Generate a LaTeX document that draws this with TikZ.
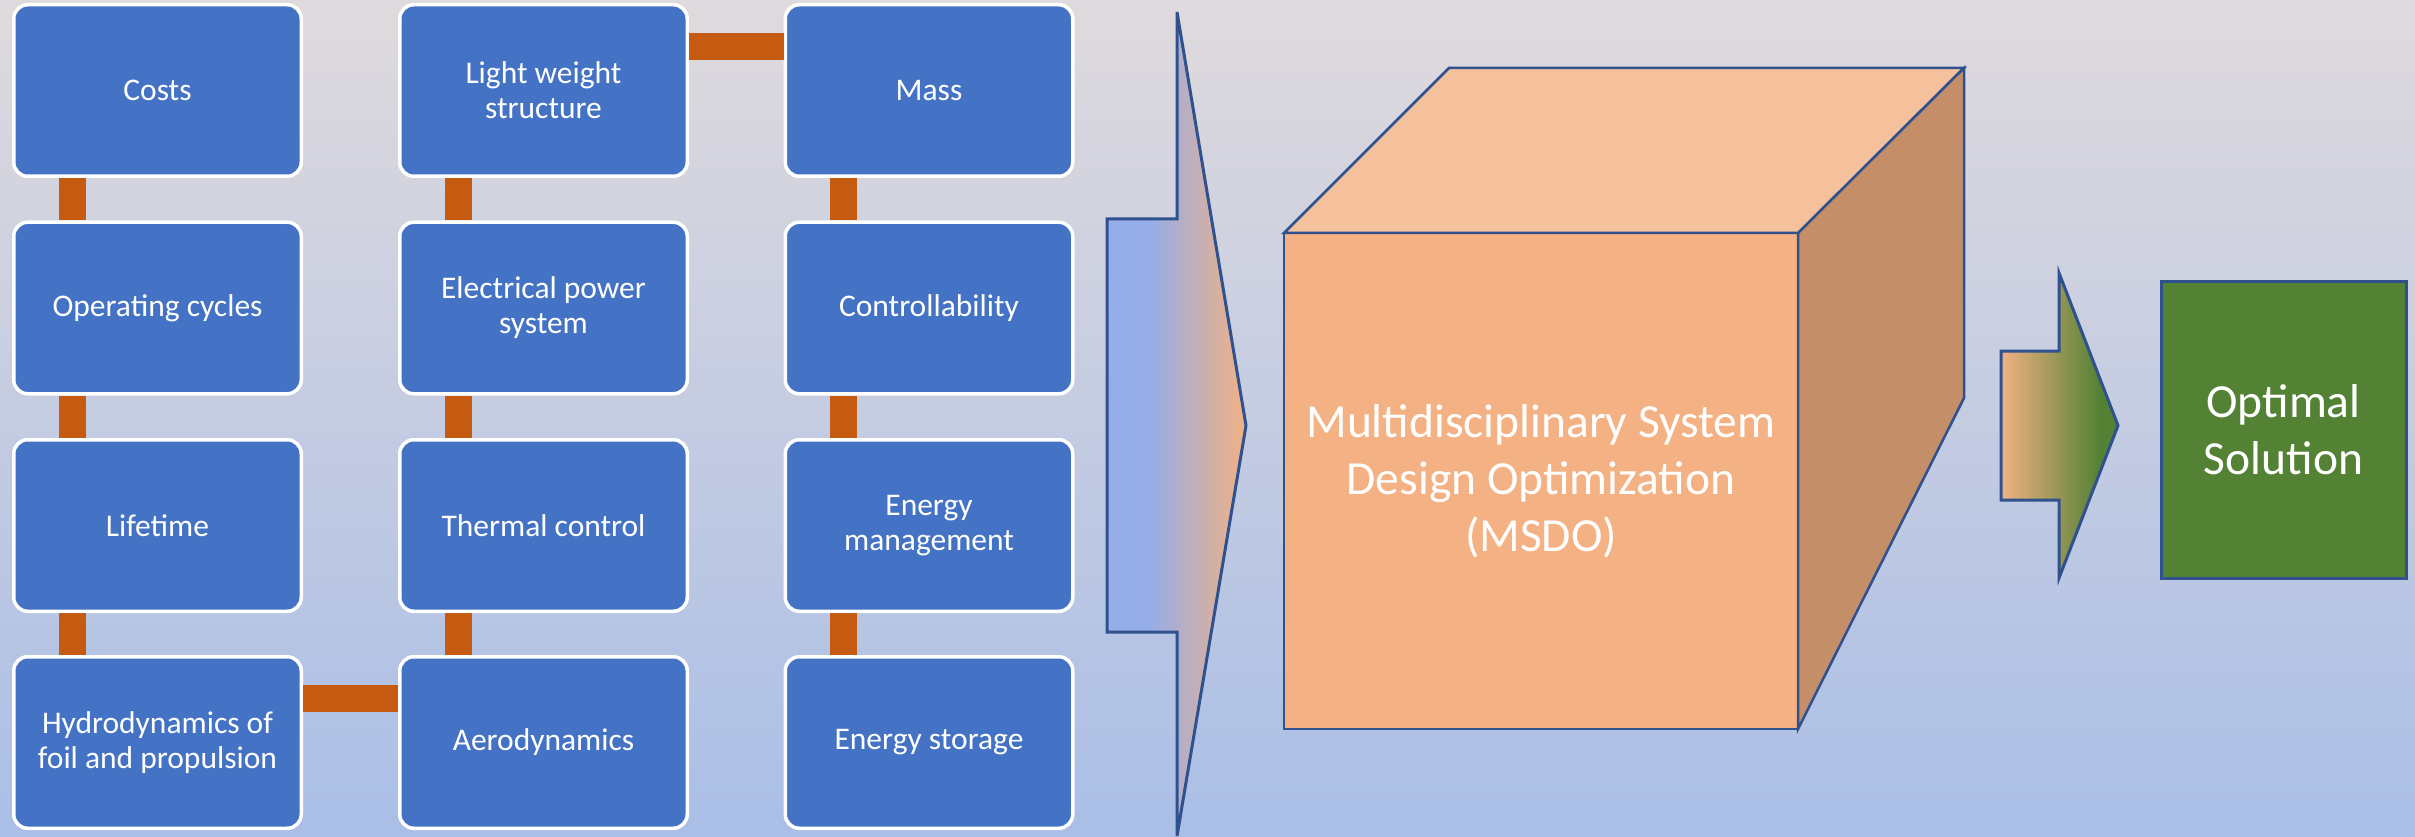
\documentclass[tikz,border=0pt]{standalone}
\usepackage{fontspec}
\setmainfont{Carlito}

\definecolor{bgtop}{HTML}{DFDADD}
\definecolor{bgbot}{HTML}{AABEE6}
\definecolor{boxblue}{HTML}{4472C4}
\definecolor{linkorange}{HTML}{C55A11}
\definecolor{edgeblue}{HTML}{2F528F}
\definecolor{cubefrontc}{HTML}{F4B183}
\definecolor{cubetopc}{HTML}{F5C19C}
\definecolor{cubesidec}{HTML}{C48E69}
\definecolor{solgreen}{HTML}{548235}
\definecolor{arrowblue}{HTML}{95ADE8}
\definecolor{arroworange}{HTML}{F2B183}

% left-to-right fills of the two block arrows (visible part is 25bp..75bp)
\pgfdeclarehorizontalshading{inflow}{100bp}{color(0bp)=(arrowblue); color(40bp)=(arrowblue); color(75bp)=(arroworange); color(100bp)=(arroworange)}
\pgfdeclarehorizontalshading{outflow}{100bp}{color(0bp)=(arroworange); color(25bp)=(arroworange); color(67bp)=(solgreen); color(100bp)=(solgreen)}

\tikzset{
  topic/.style={rectangle, rounded corners=14pt, draw=white, line width=3.5pt,
    fill=boxblue, text=white, minimum width=287.5pt, minimum height=171.5pt,
    align=center, font=\fontsize{31.5pt}{35pt}\selectfont},
  link/.style={draw=linkorange, line width=27pt},
  blockarrow/.style={draw=edgeblue, line width=3pt, line join=miter},
  cubeedge/.style={draw=edgeblue, line width=2.5pt, line join=miter},
  bigtext/.style={text=white, align=center, font=\fontsize{47.5pt}{57pt}\selectfont},
}

\begin{document}
\begin{tikzpicture}[x=1pt, y=-1pt]
  % backdrop
  \shade[top color=bgtop, bottom color=bgbot] (0,0) rectangle (2415,837);
  \useasboundingbox (0,0) rectangle (2415,837);

  % discipline boxes
  \node[topic] (costs)  at (157.5,90.5)  {Costs};
  \node[topic] (cycles) at (157.5,308)   {Operating cycles};
  \node[topic] (life)   at (157.5,525.5) {Lifetime};
  \node[topic] (hydro)  at (157.5,742.5) {Hydrodynamics of\\foil and propulsion};

  \node[topic] (light)  at (543.5,90.5)  {Light weight\\structure};
  \node[topic] (power)  at (543.5,308)   {Electrical power\\system};
  \node[topic] (therm)  at (543.5,525.5) {Thermal control};
  \node[topic] (aero)   at (543.5,742.5) {Aerodynamics};

  \node[topic] (mass)   at (929,90.5)    {Mass};
  \node[topic] (ctrl)   at (929,308)     {Controllability};
  \node[topic] (emgmt)  at (929,525.5)   {Energy\\management};
  \node[topic] (store)  at (929,742.5)   {Energy storage};

  % couplings between the boxes
  \foreach \a/\b in {costs/cycles, cycles/life, life/hydro,
                     light/power, power/therm, therm/aero,
                     mass/ctrl, ctrl/emgmt, emgmt/store}
    \draw[link] ([xshift=-85.5pt]\a.south) -- ([xshift=-85.5pt]\b.north);
  \draw[link] ([yshift=44pt]light.east) -- ([yshift=44pt]mass.west);
  \draw[link] ([yshift=44pt]hydro.east) -- ([yshift=44pt]aero.west);

  % block arrow into the cube
  \path[blockarrow, shading=inflow]
    (1107,219) -- (1177,219) -- (1177,12) -- (1246,425.5)
    -- (1177,836) -- (1177,632) -- (1107,632) -- cycle;

  % MSDO cube
  \node[rectangle, cubeedge, fill=cubefrontc, outer sep=0pt,
        minimum width=514pt, minimum height=496pt, bigtext]
    (msdo) at (1541,481) {Multidisciplinary System\\Design Optimization\\(MSDO)};
  \path[cubeedge, fill=cubetopc]
    (msdo.north west) -- ++(165,-165) -- ++(515,0) -- (msdo.north east) -- cycle;
  \path[cubeedge, fill=cubesidec]
    (msdo.north east) -- ++(166,-165) -- ++(0,330) -- (msdo.south east) -- cycle;

  % block arrow out of the cube
  \path[blockarrow, shading=outflow]
    (2001,351) -- (2059,351) -- (2059,273) -- (2118,425.5)
    -- (2059,578) -- (2059,500) -- (2001,500) -- cycle;

  % result
  \node[rectangle, draw=edgeblue, line width=3pt, fill=solgreen,
        minimum width=245pt, minimum height=297pt, bigtext]
    (sol) at (2283.5,429.5) {Optimal\\Solution};
\end{tikzpicture}
\end{document}
